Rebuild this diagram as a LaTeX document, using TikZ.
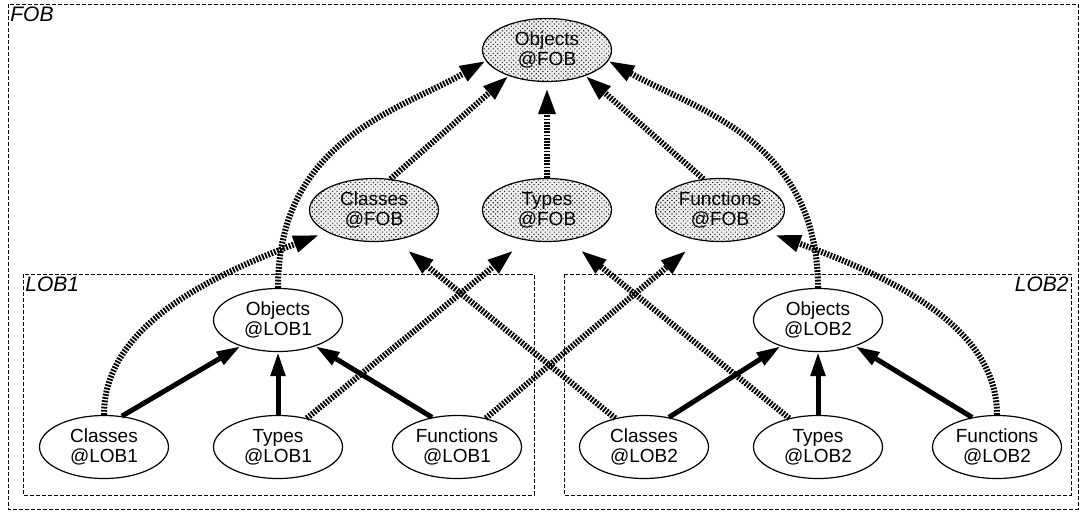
\documentclass[tikz,border=0pt]{standalone}
\usepackage{fontspec}
\setmainfont{Liberation Sans}
\usetikzlibrary{arrows.meta, shapes.geometric, patterns.meta}

\begin{document}
\begin{tikzpicture}[x=0.5pt, y=-0.5pt,
    every node/.style={font=\fontsize{9.5}{9.8}\selectfont, align=center},
    obj/.style={ellipse, draw, line width=0.6pt, minimum width=64.5pt, minimum height=31.5pt, inner sep=0pt},
    fobobj/.style={obj, preaction={fill=gray!12}, pattern={Dots[distance=1.6pt, radius=0.4pt, angle=45]}, pattern color=black!85},
    area/.style={draw, line width=0.5pt, dash pattern=on 2pt off 1pt},
    arealabel/.style={font=\fontsize{10.5}{12}\selectfont\itshape, inner sep=1pt},
    heavy/.style={line width=2.5pt, -{Triangle[length=12pt, width=7pt]}},
    hatch/.style={line width=3pt, dash pattern=on 0.9pt off 0.7pt, -{Triangle[length=13pt, width=8pt]}}]
    \useasboundingbox (0,0) rectangle (1080,515);

    \draw[area] (8,4) rectangle (1078,509);
    \draw[area] (23,274) rectangle (534,495);
    \draw[area] (564,274) rectangle (1071,495);
    \node[arealabel, anchor=north west] (fob) at (8,4) {FOB};
    \node[arealabel, anchor=north west] (lob1) at (23,274) {LOB1};
    \node[arealabel, anchor=north east] (lob2) at (1071,274) {LOB2};

    \node[fobobj] (objfob) at (547,50) {Objects\\@FOB};
    \node[fobobj] (clsfob) at (374,210) {Classes\\@FOB};
    \node[fobobj] (typfob) at (547,210) {Types\\@FOB};
    \node[fobobj] (funfob) at (720,210) {Functions\\@FOB};

    \node[obj] (objlob1) at (278,320) {Objects\\@LOB1};
    \node[obj] (clslob1) at (104,447) {Classes\\@LOB1};
    \node[obj] (typlob1) at (278,447) {Types\\@LOB1};
    \node[obj] (funlob1) at (457,447) {Functions\\@LOB1};

    \node[obj] (objlob2) at (818,320) {Objects\\@LOB2};
    \node[obj] (clslob2) at (644,447) {Classes\\@LOB2};
    \node[obj] (typlob2) at (818,447) {Types\\@LOB2};
    \node[obj] (funlob2) at (997,447) {Functions\\@LOB2};

    \draw[heavy] (clslob1.60) -- (objlob1.215);
    \draw[heavy] (typlob1) -- (objlob1);
    \draw[heavy] (funlob1.130) -- (objlob1.325);
    \draw[heavy] (clslob2.50) -- (objlob2.215);
    \draw[heavy] (typlob2) -- (objlob2);
    \draw[heavy] (funlob2.130) -- (objlob2.325);

    \draw[hatch] (clsfob.62) -- (objfob.214);
    \draw[hatch, shorten >=3pt] (typfob) -- (objfob);
    \draw[hatch] (funfob.118) -- (objfob.326);
    \draw[hatch] (objlob1.north) .. controls (278,140) and (400,110) .. (objfob.190);
    \draw[hatch] (objlob2.north) .. controls (818,140) and (696,110) .. (objfob.350);

    \draw[hatch, shorten >=4pt] (clslob1.north) .. controls (104,330) and (200,280) .. (clsfob.205);
    \draw[hatch, shorten >=4pt] (funlob2.north) .. controls (997,330) and (900,280) .. (funfob.335);
    \draw[hatch, shorten >=8pt] (typlob1.45) -- (typfob.235);
    \draw[hatch, shorten >=8pt] (funlob1.45) -- (funfob.235);
    \draw[hatch, shorten >=8pt] (clslob2.135) -- (clsfob.305);
    \draw[hatch, shorten >=8pt] (typlob2.135) -- (typfob.305);
\end{tikzpicture}
\end{document}
